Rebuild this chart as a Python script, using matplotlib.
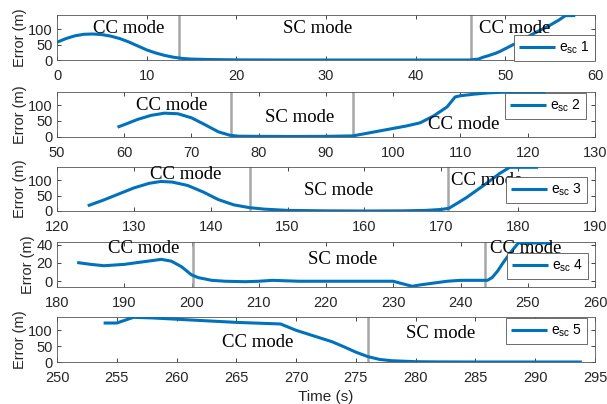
import matplotlib
matplotlib.use("Agg")
import matplotlib.pyplot as plt

# ---------------- data ----------------
x1 = [0, 1, 2, 3, 4, 5, 6, 7, 8, 9, 10, 11, 12, 13, 14, 15, 17, 20, 25, 30, 35, 40, 46,
      47, 47.5, 48, 49, 49.4, 50, 51, 52, 53, 54, 55, 56, 56.7, 57.8]
y1 = [58, 70, 79, 84, 85, 83, 78, 70, 59, 46, 33, 23, 15, 9, 5, 3, 1.5, 0.5, 0, 0, 0, 0, 0,
      3, 9, 13, 23, 28, 37, 52, 68, 84, 99, 114, 131, 145, 145]

x2 = [59, 60, 62, 64, 66, 68, 70, 72, 74, 75.7, 77, 80, 85, 90, 94, 96, 98, 100, 102, 104,
      106, 108, 109.2, 110, 112, 114, 116, 118, 120, 122.6]
y2 = [30, 38, 55, 68, 75, 73, 60, 38, 15, 4, 1, 0.5, 0, 0.5, 2, 10, 18, 26, 34, 44,
      66, 95, 127, 131, 136, 140, 142, 142, 142, 142]

x3 = [124, 126, 128, 130, 132, 133.5, 135, 137, 139, 141, 143, 145, 147, 150, 155, 160, 165,
      168, 170, 171, 172, 173.3, 175.5, 177.6, 178.9, 182.6]
y3 = [17, 35, 55, 75, 90, 96, 94, 83, 62, 37, 20, 11, 6, 2, 0.5, 0, 0.5,
      2, 5, 9, 24, 44, 83, 122, 142, 142]

x4 = [183, 185, 187, 190, 193, 195.5, 197, 198.5, 200, 201, 203, 205, 208, 210, 212, 214, 216,
      220, 225, 230, 231, 232.8, 234, 236, 238, 240, 244, 244.7, 245.5, 246.4, 247.5, 248.6, 253.6]
y4 = [20.5, 18.5, 17, 18.5, 21.5, 24, 22, 16, 7, 4, 1, 0, -0.5, 0, 1, 0.5, 0,
      0, 0, 0, -2, -5.5, -4, -2, 0, 1, 1, 4, 11, 21, 32, 42, 42]

x5 = [253.9, 255, 256.4, 258, 260, 262, 265, 268.7, 270, 271, 272, 273, 274, 275, 276, 277,
      278, 280, 282, 285, 290, 293.9]
y5 = [123, 123, 141, 139, 135, 131, 125, 120, 100, 88, 76, 64, 48, 31, 17, 8,
      4, 1, 0.3, 0, 0, 0]

series_x = [x1, x2, x3, x4, x5]
series_y = [y1, y2, y3, y4, y5]
legend_labels = ["e$_{\\rm sc}$ 1", "e$_{\\rm sc}$ 2", "e$_{\\rm sc}$ 3",
                 "e$_{\\rm sc}$ 4", "e$_{\\rm sc}$ 5"]

xlims = [(0, 60), (50, 130), (120, 190), (180, 260), (250, 295)]
ylims = [(0, 147), (0, 143), (0, 143), (-6.3, 43), (0, 142)]
xticks = [list(range(0, 61, 10)), list(range(50, 131, 10)), list(range(120, 191, 10)),
          list(range(180, 261, 10)), list(range(250, 296, 5))]
yticks = [[0, 50, 100], [0, 50, 100], [0, 50, 100], [0, 20, 40], [0, 50, 100]]

switch_times = [[13.6, 46.2], [75.9, 94.0], [145.1, 170.9], [200.2, 243.7], [276.0]]

# mode annotations: (x in data, y in axes fraction, text)
mode_texts = [
    [(8.0, 0.70, "CC mode"), (29.1, 0.70, "SC mode"), (51.0, 0.70, "CC mode")],
    [(67.1, 0.70, "CC mode"), (86.1, 0.43, "SC mode"), (110.5, 0.27, "CC mode")],
    [(136.7, 0.84, "CC mode"), (156.6, 0.47, "SC mode"), (175.9, 0.70, "CC mode")],
    [(192.9, 0.86, "CC mode"), (222.5, 0.61, "SC mode"), (249.7, 0.86, "CC mode")],
    [(266.8, 0.43, "CC mode"), (282.1, 0.64, "SC mode")],
]

# ---------------- layout ----------------
W, H = 607, 404
fig = plt.figure(figsize=(W / 100, H / 100), dpi=100)
plt.rcParams['font.family'] = ['Liberation Sans', 'DejaVu Sans']
plt.rcParams['mathtext.fontset'] = 'custom'
plt.rcParams['mathtext.rm'] = 'Liberation Sans'
plt.rcParams['mathtext.it'] = 'Liberation Sans'

left_px, right_px = 57, 595
panel_px = [(15, 60), (92, 136.5), (167, 211), (242, 287), (317, 362)]
legend_anchor_px = [(595, 61, 'lower right'), (586, 93, 'upper right'), (587, 177, 'upper right'),
                    (588, 253, 'upper right'), (587, 318, 'upper right')]

blue = '#0072BD'
axc = '#262626'

for i in range(5):
    top, bot = panel_px[i]
    ax = fig.add_axes([left_px / W, 1 - bot / H, (right_px - left_px) / W, (bot - top) / H])
    ax.plot(series_x[i], series_y[i], color=blue, lw=2.2, label=legend_labels[i],
            solid_capstyle='butt', zorder=3)
    for t in switch_times[i]:
        ax.axvline(t, color='#A6A6A6', lw=1.8, zorder=2)
    ax.set_xlim(*xlims[i])
    ax.set_ylim(*ylims[i])
    ax.set_xticks(xticks[i])
    ax.set_yticks(yticks[i])
    ax.tick_params(direction='in', top=True, right=True, length=3, width=0.6,
                   labelsize=10.5, colors=axc)
    ax.tick_params(axis='x', pad=6.5)
    ax.tick_params(axis='y', pad=3)
    for sp in ax.spines.values():
        sp.set_color('#555555')
        sp.set_linewidth(0.6)
    ax.set_ylabel("Error (m)", fontsize=10.5, color=axc, labelpad=1)
    for (tx, ty, s) in mode_texts[i]:
        ax.text(tx, ty, s, transform=ax.get_xaxis_transform(), ha='center', va='center',
                fontsize=13.5, family='Liberation Serif', color='black', zorder=4)
    ax_px, ay_px, loc = legend_anchor_px[i]
    leg = ax.legend(loc=loc, bbox_to_anchor=(ax_px / W, 1 - ay_px / H),
                    bbox_transform=fig.transFigure, borderaxespad=0, fontsize=10,
                    handlelength=2.6, handletextpad=0.3, borderpad=0.35,
                    fancybox=False, framealpha=1, edgecolor='#555555')
    leg.get_frame().set_linewidth(0.6)
    if i == 4:
        ax.set_xlabel("Time (s)", fontsize=11, color=axc, labelpad=3.5)

fig.savefig("out.png", dpi=100)
